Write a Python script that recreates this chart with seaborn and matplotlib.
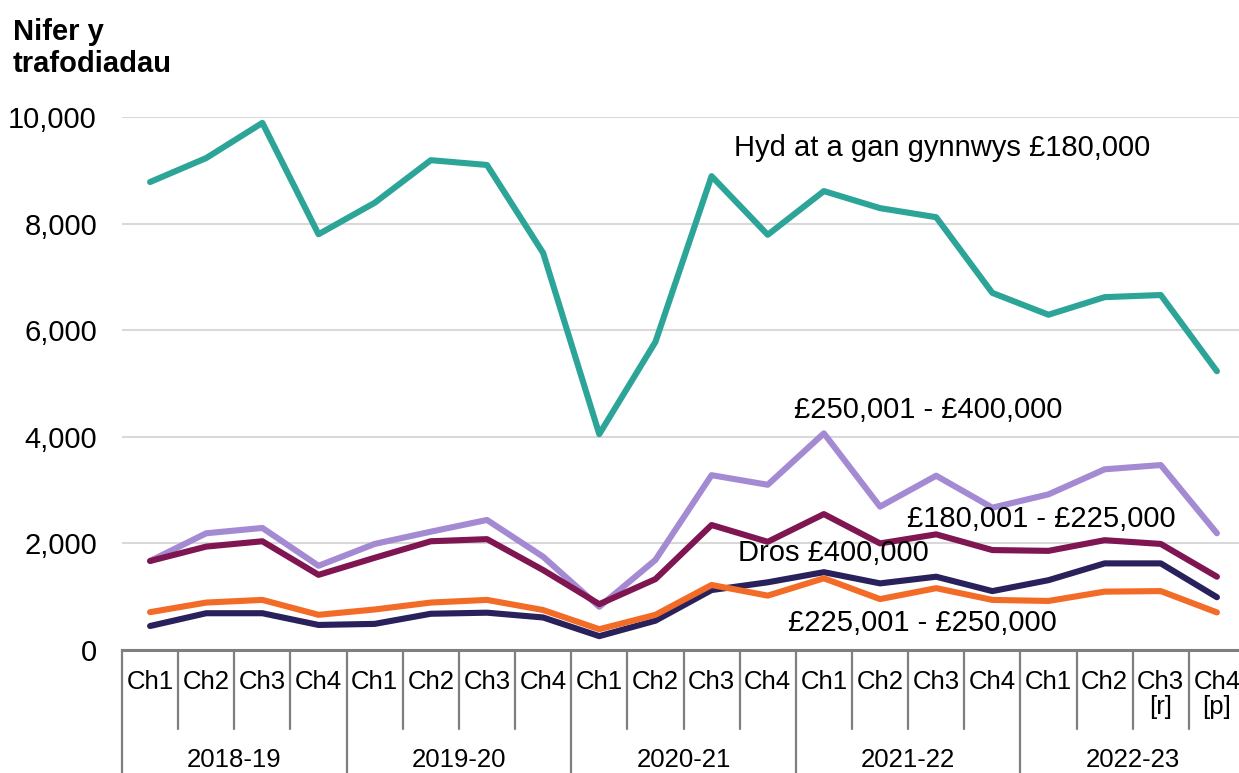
import numpy as np
import pandas as pd
import matplotlib
matplotlib.use("Agg")
import matplotlib.pyplot as plt
import seaborn as sns

# quarters and financial years
quarters = ["Ch1", "Ch2", "Ch3", "Ch4"] * 5
quarters[18] = "Ch3\n[r]"
quarters[19] = "Ch4\n[p]"
years = ["2018-19", "2019-20", "2020-21", "2021-22", "2022-23"]

# number of transactions per price band
upto_180k = [8780, 9230, 9890, 7800, 8390, 9190, 9100, 7450, 4050, 5780,
             8890, 7790, 8610, 8290, 8120, 6700, 6290, 6620, 6660, 5230]
band_180_225 = [1670, 1940, 2040, 1410, 1730, 2040, 2080, 1500, 860, 1330,
                2345, 2030, 2550, 2000, 2170, 1875, 1860, 2060, 1990, 1375]
band_225_250 = [710, 890, 940, 660, 760, 890, 940, 750, 390, 660,
                1220, 1020, 1345, 955, 1160, 940, 920, 1095, 1105, 705]
band_250_400 = [1670, 2190, 2290, 1580, 1990, 2220, 2440, 1750, 810, 1690,
                3280, 3100, 4065, 2690, 3270, 2670, 2920, 3390, 3470, 2190]
over_400k = [450, 690, 690, 470, 490, 680, 700, 610, 260, 550,
             1125, 1270, 1460, 1250, 1375, 1105, 1310, 1625, 1625, 990]

series = {
    "Hyd at a gan gynnwys £180,000": upto_180k,
    "£250,001 - £400,000": band_250_400,
    "£180,001 - £225,000": band_180_225,
    "Dros £400,000": over_400k,
    "£225,001 - £250,000": band_225_250,
}
colors = {
    "Hyd at a gan gynnwys £180,000": "#2ca598",
    "£250,001 - £400,000": "#a48ad3",
    "£180,001 - £225,000": "#7f1652",
    "Dros £400,000": "#28215c",
    "£225,001 - £250,000": "#f36c27",
}

rows = []
for name, vals in series.items():
    for i, v in enumerate(vals):
        rows.append({"idx": i, "value": v, "band": name})
df = pd.DataFrame(rows)

sns.set_style("white")
plt.rcParams["font.family"] = ["Liberation Sans", "DejaVu Sans"]
plt.rcParams["text.color"] = "black"
plt.rcParams["ytick.color"] = "black"

fig = plt.figure(figsize=(12.39, 7.73), dpi=100)
ax = fig.add_axes([122 / 1239, 123 / 773, 1123 / 1239, 533 / 773])

sns.lineplot(data=df, x="idx", y="value", hue="band", palette=colors,
             linewidth=4.4, legend=False, ax=ax, zorder=3)

ax.set_xlim(-0.5, 19.5)
ax.set_ylim(0, 10000)
ax.set_yticks(np.arange(0, 10001, 2000))
ax.set_yticklabels([f"{v:,}" for v in range(0, 10001, 2000)], fontsize=21)
ax.tick_params(axis="y", length=0, pad=18)
ax.set_xticks([])
ax.set_xlabel("")
ax.set_ylabel("")
ax.grid(axis="y", color="#d9d9d9", linewidth=1.5, zorder=0)
for s in ["top", "right", "left"]:
    ax.spines[s].set_visible(False)
ax.spines["bottom"].set_color("#7f7f7f")
ax.spines["bottom"].set_linewidth(2.2)

# multi-level category axis
trans = ax.get_xaxis_transform()
for i, q in enumerate(quarters):
    ax.text(i, -0.037, q, transform=trans, ha="center", va="top",
            fontsize=18.5, linespacing=1.05)
for k in range(21):
    bottom = -0.26 if k % 4 == 0 else -0.148
    ax.plot([k - 0.5, k - 0.5], [0, bottom], transform=trans, color="#7f7f7f",
            linewidth=1.6, clip_on=False)
for j, y in enumerate(years):
    ax.text(4 * j + 1.5, -0.206, y, transform=trans, ha="center", va="center",
            fontsize=18.5)

# direct labels
labels = [
    ("Hyd at a gan gynnwys £180,000", 14.1, 9420),
    ("£250,001 - £400,000", 13.85, 4500),
    ("£180,001 - £225,000", 15.87, 2460),
    ("Dros £400,000", 12.17, 1820),
    ("£225,001 - £250,000", 13.76, 506),
]
for txt, xi, yv in labels:
    ax.text(xi, yv, txt, ha="center", va="center", fontsize=21, zorder=4)

fig.text(13 / 1239, 1 - 18 / 773, "Nifer y\ntrafodiadau", ha="left", va="top",
         fontsize=21, fontweight="bold", linespacing=1.2)

fig.savefig("out.png", dpi=100)
